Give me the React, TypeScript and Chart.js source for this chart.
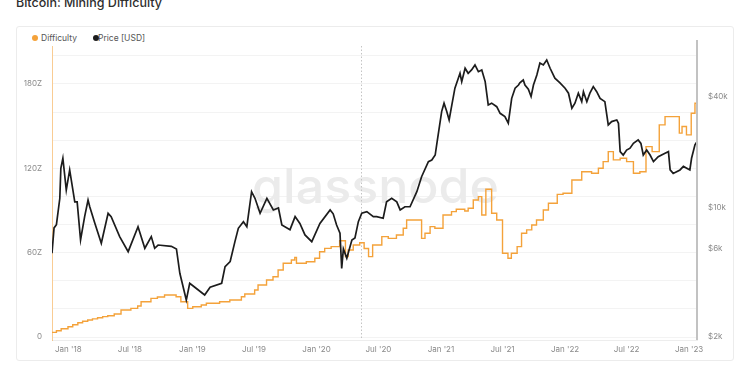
import React, { useEffect, useRef } from 'react';
import { Chart, registerables } from 'chart.js';

Chart.register(...registerables);

// ---- data ----
const priceDates = [
  '2017-11-14','2017-11-20','2017-11-27','2017-12-07','2017-12-10','2017-12-16','2017-12-26',
  '2018-01-05','2018-01-20','2018-01-27','2018-02-06','2018-02-18','2018-02-28','2018-03-05','2018-03-20',
  '2018-04-08','2018-04-28','2018-05-07','2018-06-01','2018-06-26','2018-07-25','2018-08-14','2018-09-02',
  '2018-09-12','2018-09-22','2018-10-31','2018-11-15','2018-11-25','2018-12-14','2018-12-24',
  '2019-01-08','2019-02-06','2019-02-22','2019-03-28','2019-04-07','2019-04-22','2019-05-06','2019-05-16',
  '2019-05-31','2019-06-10','2019-06-24','2019-07-04','2019-07-19','2019-08-08','2019-08-27','2019-09-11',
  '2019-09-21','2019-10-15','2019-10-30','2019-11-13','2019-11-28','2019-12-18','2019-12-23',
  '2020-01-11','2020-02-10','2020-02-19','2020-02-29','2020-03-10','2020-03-15','2020-03-20','2020-03-30',
  '2020-04-14','2020-04-23','2020-05-03','2020-05-13','2020-05-28','2020-06-16','2020-06-26','2020-07-15',
  '2020-07-25','2020-08-09','2020-08-24','2020-09-03','2020-09-17','2020-10-02','2020-10-22','2020-11-05',
  '2020-11-25','2020-12-05','2020-12-15','2020-12-20',
  '2021-01-03','2021-01-10','2021-01-18','2021-01-25','2021-02-02','2021-02-11','2021-02-21','2021-02-26',
  '2021-03-03','2021-03-13','2021-03-22','2021-04-01','2021-04-11','2021-04-21','2021-05-01','2021-05-11',
  '2021-05-20','2021-05-30','2021-06-14','2021-06-24','2021-07-08','2021-07-18','2021-07-28','2021-08-07',
  '2021-08-17','2021-08-21','2021-08-31','2021-09-05','2021-09-15','2021-09-23','2021-09-30','2021-10-10',
  '2021-10-19','2021-10-29','2021-11-08','2021-11-18','2021-12-02','2021-12-17',
  '2022-01-01','2022-01-11','2022-01-21','2022-01-30','2022-02-09','2022-02-19','2022-02-24','2022-03-06',
  '2022-03-15','2022-03-25','2022-04-04','2022-04-14','2022-04-28','2022-05-08','2022-05-18','2022-06-02',
  '2022-06-07','2022-06-12','2022-06-21','2022-07-01','2022-07-11','2022-07-21','2022-08-04','2022-08-12',
  '2022-08-19','2022-08-29','2022-09-08','2022-09-18','2022-10-02','2022-10-22','2022-11-01','2022-11-06',
  '2022-11-15','2022-12-05','2022-12-15','2023-01-03','2023-01-08','2023-01-18','2023-01-24',
];
const priceValues = [
  5690, 7800, 8120, 11290, 16400, 18600, 12500,
  16080, 10800, 10800, 6710, 8980, 11050, 10160, 8260,
  6440, 9360, 8980, 7000, 5800, 7920, 6050, 7000,
  6050, 6300, 6200, 6000, 4430, 3170, 3910,
  3720, 3380, 3720, 3910, 4810, 5130, 6570, 7760,
  8430, 7920, 12260, 11290, 9360, 11290, 9760, 10000,
  8090, 7630, 8980, 8250, 7150, 6570, 6880,
  8250, 9760, 9300, 8090, 7300, 4710, 6000, 5350,
  6710, 6880, 8430, 9360, 9550, 8980, 8980, 8800,
  10800, 11290, 10800, 9760, 10160, 10160, 12260, 14780,
  17840, 18200, 19370, 22400,
  33300, 37000, 33300, 30000, 36200, 44600, 50500, 53700,
  48400, 57200, 53700, 56000, 59600, 54800, 56000, 48400,
  36200, 37000, 35400, 32600, 31300, 28800, 39300, 44600,
  46400, 47700, 49400, 46400, 44000, 40200, 46400, 52600,
  61000, 59600, 63400, 57200, 50500, 47700,
  44600, 41900, 34700, 37000, 41900, 37700, 42700, 37700,
  41900, 45500, 42700, 39300, 37700, 28200, 29400, 30000,
  28800, 20200, 19370, 20600, 21100, 22400, 23400, 22400,
  19370, 20600, 19370, 17840, 18980, 19800, 20200, 16080,
  15400, 16080, 16800, 16080, 18600, 22000, 22900,
];

const diffDates = [
  '2017-11-14','2017-11-27','2017-12-11','2017-12-31','2018-01-14','2018-01-29','2018-02-12','2018-02-27',
  '2018-03-13','2018-03-28','2018-04-12','2018-04-27','2018-05-16','2018-06-05','2018-07-04','2018-07-24',
  '2018-08-03','2018-09-01','2018-09-20','2018-10-11','2018-11-14','2018-11-28','2018-12-18',
  '2019-01-02','2019-01-27','2019-02-11','2019-03-22','2019-04-21','2019-05-25','2019-06-04','2019-07-03',
  '2019-07-13','2019-08-07','2019-08-26','2019-09-10','2019-09-25','2019-10-19','2019-10-29','2019-11-03',
  '2019-12-02','2019-12-27',
  '2020-01-10','2020-01-25','2020-02-13','2020-03-09','2020-03-26','2020-04-03','2020-04-18','2020-05-07',
  '2020-05-20','2020-06-02','2020-06-14','2020-07-11','2020-07-30','2020-08-23','2020-09-12','2020-09-22',
  '2020-11-05','2020-11-15','2020-11-30','2020-12-14',
  '2021-01-07','2021-02-01','2021-02-15','2021-03-12','2021-03-22','2021-04-06','2021-04-21','2021-05-01',
  '2021-05-13','2021-05-30','2021-06-14','2021-07-01','2021-07-17','2021-07-27','2021-08-13','2021-08-26',
  '2021-09-10','2021-09-25','2021-10-09','2021-10-29','2021-11-13','2021-12-09','2021-12-26',
  '2022-01-21','2022-02-19','2022-03-20','2022-04-09','2022-04-23','2022-05-08','2022-05-23','2022-06-12',
  '2022-07-01','2022-07-21','2022-08-09','2022-08-27','2022-09-14','2022-10-05','2022-10-22','2022-12-03',
  '2022-12-11','2022-12-24','2023-01-07','2023-01-18','2023-01-24',
];
const diffValues = [
  3.3, 4.5, 5.9, 7.3, 8.7, 10.2, 11.2, 12.1,
  12.9, 13.7, 14.5, 15.2, 16.4, 19.2, 20.4, 22.1,
  25.1, 27.5, 28.5, 29.9, 28.7, 25.1, 20.4,
  21.6, 22.8, 24.0, 25.1, 26.3, 28.7, 30.6, 33.5,
  37.0, 40.6, 42.9, 47.7, 52.5, 54.8, 56.7, 52.5,
  53.6, 56.0,
  60.7, 63.1, 64.3, 68.5, 57.2, 61.9, 65.5, 67.1,
  63.0, 57.2, 65.5, 71.4, 70.2, 72.6, 77.4, 83.3,
  70.2, 73.8, 78.5, 77.4,
  86.8, 89.2, 90.9, 89.7, 91.6, 97.5, 99.9, 86.8,
  105.1, 88.0, 83.3, 59.6, 56.0, 59.6, 64.3, 73.8,
  76.2, 79.7, 83.3, 90.4, 95.2, 101.5, 102.3,
  111.7, 117.6, 116.5, 120.1, 124.8, 131.9, 126.0, 127.2,
  124.8, 116.5, 117.6, 135.4, 131.9, 150.9, 156.8, 145.0,
  149.7, 143.8, 159.2, 166.3, 166.3,
];

const xTickDates = [
  '2018-01-01','2018-07-01','2019-01-01','2019-07-01','2020-01-01','2020-07-01',
  '2021-01-01','2021-07-01','2022-01-01','2022-07-01','2023-01-01',
];
const leftGridValues = [0, 20, 40, 60, 80, 100, 120, 140, 160, 180, 200];
const leftLabelValues = [0, 60, 120, 180];
const rightTickValues = [2000, 6000, 10000, 40000];
const halvingDate = '2020-05-11';
const xStartDate = '2017-11-14';
const xEndDate = '2023-01-24';

const MONTHS = ['Jan','Feb','Mar','Apr','May','Jun','Jul','Aug','Sep','Oct','Nov','Dec'];
const toMs = (d: string) => Date.parse(d + 'T00:00:00Z');

const ORANGE = '#f4a23a';
const BLACK = '#1c1c1c';

export default function App() {
  const ref = useRef<HTMLCanvasElement | null>(null);

  useEffect(() => {
    if (!ref.current) return;
    Chart.defaults.font.family = 'Inter, "Noto Sans", sans-serif';

    const watermark = {
      id: 'watermark',
      beforeDatasetsDraw(chart: any) {
        const { ctx, chartArea } = chart;
        ctx.save();
        ctx.font = '500 48px Inter';
        const w = ctx.measureText('glassnode').width;
        const target = 247;
        const cx = (chartArea.left + chartArea.right) / 2 + 1;
        ctx.translate(cx, 203);
        ctx.scale(target / w, 1);
        ctx.fillStyle = '#ebebeb';
        ctx.textAlign = 'center';
        ctx.textBaseline = 'alphabetic';
        ctx.fillText('glassnode', 0, 0);
        ctx.restore();
      },
    };
    const halving = {
      id: 'halving',
      beforeDatasetsDraw(chart: any) {
        const { ctx, chartArea, scales } = chart;
        const x = Math.round(scales.x.getPixelForValue(toMs(halvingDate))) + 0.5;
        ctx.save();
        ctx.strokeStyle = '#c4c4c4';
        ctx.lineWidth = 1;
        ctx.setLineDash([1.5, 2]);
        ctx.beginPath();
        ctx.moveTo(x, chartArea.top);
        ctx.lineTo(x, chartArea.bottom);
        ctx.stroke();
        ctx.restore();
      },
    };
    const rightBorder = {
      id: 'rightBorder',
      afterDraw(chart: any) {
        const { ctx, chartArea } = chart;
        const x = Math.round(chartArea.right);
        ctx.save();
        ctx.fillStyle = '#c2c2c2';
        ctx.fillRect(x - 1, chartArea.top - 6, 2, chartArea.bottom - chartArea.top + 6);
        ctx.restore();
      },
    };

    const chart = new Chart(ref.current, {
      type: 'line',
      data: {
        datasets: [
          {
            label: 'Difficulty',
            data: diffDates.map((d, i) => ({ x: toMs(d), y: diffValues[i] })),
            borderColor: ORANGE,
            borderWidth: 1.4,
            pointRadius: 0,
            stepped: true,
            yAxisID: 'yL',
            order: 2,
          },
          {
            label: 'Price [USD]',
            data: priceDates.map((d, i) => ({ x: toMs(d), y: priceValues[i] })),
            borderColor: BLACK,
            borderWidth: 1.7,
            pointRadius: 0,
            tension: 0,
            yAxisID: 'yR',
            order: 1,
          },
        ],
      },
      options: {
        responsive: false,
        animation: false,
        devicePixelRatio: 1,
        layout: { padding: { top: 46, left: 0, right: 0, bottom: 0 } },
        plugins: { legend: { display: false }, tooltip: { enabled: false } },
        scales: {
          x: {
            type: 'linear',
            min: toMs(xStartDate),
            max: toMs(xEndDate),
            afterBuildTicks: (s: any) => {
              s.ticks = xTickDates.map((d) => ({ value: toMs(d) }));
            },
            afterFit: (s: any) => { s.height = 35; },
            grid: { display: false, drawTicks: false },
            border: { display: true, color: '#ededed' },
            ticks: {
              autoSkip: false,
              maxRotation: 0,
              padding: 5,
              color: '#8a8a8a',
              font: { size: 8 },
              callback: (v: any) => {
                const d = new Date(Number(v));
                return `${MONTHS[d.getUTCMonth()]} '${String(d.getUTCFullYear()).slice(2)}`;
              },
            },
          },
          yL: {
            type: 'linear',
            position: 'left',
            min: -2.1,
            max: 207,
            afterBuildTicks: (s: any) => {
              s.ticks = leftGridValues.map((v) => ({ value: v }));
            },
            afterFit: (s: any) => { s.width = 52; },
            grid: { color: '#f3f3f3', drawTicks: false, lineWidth: 1 },
            border: { display: true, color: 'rgba(244,162,58,0.55)' },
            ticks: {
              autoSkip: false,
              padding: 10,
              color: '#8a8a8a',
              font: { size: 8 },
              callback: (v: any) => (leftLabelValues.includes(Number(v)) ? (Number(v) === 0 ? '0' : `${v}Z`) : ''),
            },
          },
          yR: {
            type: 'logarithmic',
            position: 'right',
            min: 1926,
            max: 75500,
            afterBuildTicks: (s: any) => {
              s.ticks = rightTickValues.map((v) => ({ value: v }));
            },
            afterFit: (s: any) => { s.width = 53; },
            grid: { display: false, drawTicks: false },
            border: { display: false },
            ticks: {
              autoSkip: false,
              padding: 11,
              color: '#8a8a8a',
              font: { size: 8 },
              callback: (v: any) => `$${Number(v) / 1000}k`,
            },
          },
        },
      } as any,
      plugins: [watermark, halving, rightBorder],
    });
    return () => chart.destroy();
  }, []);

  const legendText: React.CSSProperties = {
    position: 'absolute',
    top: 33,
    fontSize: 8.5,
    color: '#555',
    fontFamily: 'Inter, sans-serif',
    lineHeight: '11px',
    whiteSpace: 'nowrap',
  };
  const dot = (bg: string, left: number): React.CSSProperties => ({
    position: 'absolute',
    left: left - 3,
    top: 35.3,
    width: 6,
    height: 6,
    borderRadius: 3,
    background: bg,
  });

  return (
    <div style={{ position: 'fixed', left: 0, top: 0, width: 750, height: 375, background: '#fff', overflow: 'hidden' }}>
      <div
        style={{
          position: 'absolute', left: 16, top: -6, fontFamily: 'Inter, sans-serif', fontSize: 12.5,
          fontWeight: 500, color: '#2e2e2e', lineHeight: '17px', whiteSpace: 'nowrap',
        }}
      >
        Bitcoin: Mining Difficulty
      </div>
      <div
        style={{
          position: 'absolute', left: 16, top: 26, width: 716, height: 333,
          border: '1px solid #ececec', borderRadius: 3, background: '#fff',
        }}
      />
      <div style={dot(ORANGE, 35)} />
      <div style={{ ...legendText, left: 41 }}>Difficulty</div>
      <div style={dot(BLACK, 95.5)} />
      <div style={{ ...legendText, left: 98 }}>Price [USD]</div>
      <canvas ref={ref} width={750} height={375} style={{ position: 'absolute', left: 0, top: 0, width: 750, height: 375 }} />
    </div>
  );
}
